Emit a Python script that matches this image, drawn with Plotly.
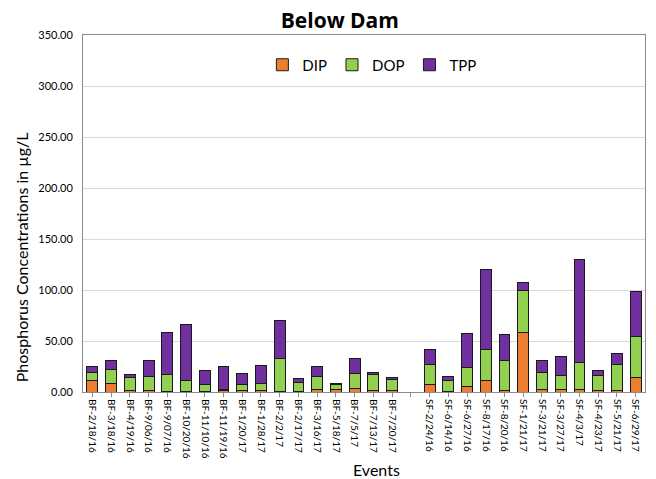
import plotly.graph_objects as go

events = ["BF-2/18/16", "BF-3/18/16", "BF-4/19/16", "BF-9/06/16", "BF-9/07/16", "BF-10/20/16",
          "BF-11/10/16", "BF-11/19/16", "BF-1/20/17", "BF-1/28/17", "BF-2/2/17", "BF-2/17/17",
          "BF-3/16/17", "BF-5/18/17", "BF-7/5/17", "BF-7/13/17", "BF-7/20/17", " ",
          "SF-2/24/16", "SF-6/14/16", "SF-6/27/16", "SF-8/17/16", "SF-8/20/16", "SF-1/21/17",
          "SF-3/21/17", "SF-3/27/17", "SF-4/3/17", "SF-4/23/17", "SF-5/21/17", "SF-6/29/17"]

dip = [10.8, 8.5, 1.0, 1.0, 0.5, 0.5, 0.5, 1.5, 1.0, 1.0, 0.5, 0.5, 2.6, 2.6, 3.3, 1.5, 1.0, None,
       7.5, 0.3, 5.6, 10.8, 1.0, 58.5, 2.6, 2.0, 2.6, 1.0, 1.0, 14.0]
dop = [8.8, 13.4, 13.7, 14.4, 16.2, 10.9, 7.0, 0.8, 6.2, 7.2, 32.5, 9.0, 12.4, 4.6, 14.7, 16.1, 11.1, None,
       19.3, 10.5, 18.6, 31.1, 29.7, 40.8, 16.3, 14.0, 26.1, 15.4, 25.5, 40.2]
tpp = [5.2, 8.8, 2.0, 15.3, 41.4, 54.3, 13.4, 22.5, 11.1, 18.0, 37.3, 3.5, 9.8, 1.3, 15.0, 1.4, 2.0, None,
       15.1, 4.2, 33.3, 78.4, 25.5, 8.2, 11.8, 19.0, 101.4, 4.5, 11.7, 44.5]

series = [("DIP", dip, "#ED7D31"), ("DOP", dop, "#92D050"), ("TPP", tpp, "#7030A0")]

fig = go.Figure()
for name, vals, col in series:
    fig.add_trace(go.Bar(x=events, y=vals, name=name,
                         marker=dict(color=col, line=dict(color="#1a1a1a", width=1))))

font_family = "Lato, Open Sans, sans-serif"
fig.update_layout(
    barmode="stack",
    bargap=0.42,
    width=656, height=479,
    margin=dict(l=83, r=11, t=35, b=87, autoexpand=False),
    paper_bgcolor="white", plot_bgcolor="white",
    font=dict(family=font_family, color="#000000"),
    title=dict(text="<b>Below Dam</b>", x=0.457, xref="paper", xanchor="center",
               y=0.956, yref="container", yanchor="middle",
               font=dict(size=21, family="Open Sans, sans-serif", color="#000")),
    legend=dict(orientation="h", x=0.514, xanchor="center", y=0.916, yanchor="middle",
                font=dict(size=15, family=font_family), bgcolor="rgba(0,0,0,0)",
                itemwidth=30, traceorder="normal"),
    showlegend=True,
)
fig.update_xaxes(type="category", tickangle=90, tickfont=dict(size=10, family=font_family),
                 automargin=False,
                 showline=True, linecolor="#8c8c8c", linewidth=1, mirror=True,
                 ticks="outside", ticklen=4, tickcolor="#8c8c8c", showgrid=False)
fig.update_yaxes(range=[0, 350], dtick=50, tickformat=".2f", automargin=False,
                 tickfont=dict(size=11, family=font_family), ticklabelstandoff=7,
                 showgrid=True, gridcolor="#d9d9d9", gridwidth=1,
                 showline=True, linecolor="#8c8c8c", linewidth=1, mirror=True,
                 zeroline=False)
fig.add_annotation(text="Phosphorus Concentrations in µg/L", textangle=-90,
                   x=-0.110, xref="paper", y=0.378, yref="paper",
                   xanchor="center", yanchor="middle", showarrow=False,
                   font=dict(size=16, family=font_family))
fig.add_annotation(text="Events", x=0.523, xref="paper", y=-0.218, yref="paper",
                   showarrow=False, font=dict(size=16, family=font_family),
                   xanchor="center", yanchor="middle")

fig.write_html("out.html", config={"displayModeBar": False},
               post_script="document.body.style.margin='0';document.body.style.overflow='hidden';")
